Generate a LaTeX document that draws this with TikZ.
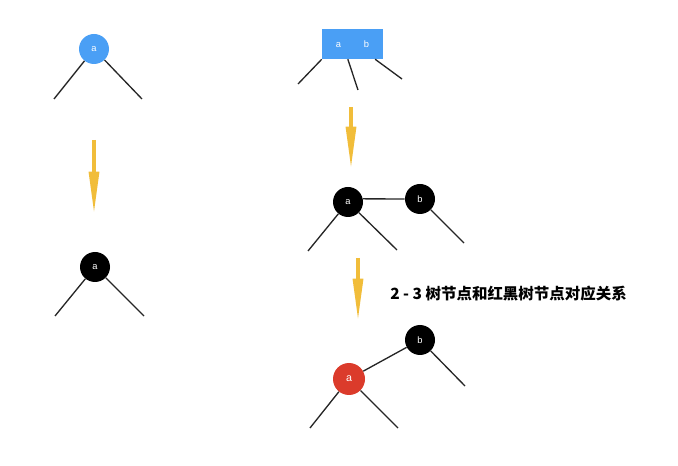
\documentclass[tikz,border=0pt]{standalone}
\usepackage{fontspec}
\newfontfamily\labfont{Liberation Sans}
\newfontfamily\cjkfont{Noto Sans CJK SC}
\usepackage{tikz}
\usetikzlibrary{arrows.meta}
\definecolor{keyblue}{HTML}{4A9FF5}
\definecolor{keyred}{HTML}{DB3B2B}
\definecolor{arrowgold}{HTML}{F1BD3A}
\tikzset{
  key/.style={circle,fill=black,minimum size=22.5pt,inner sep=0pt,text=white,font=\labfont\fontsize{7}{8}\selectfont},
  edge/.style={line width=1pt,black!85},
  down/.style={line width=2.4pt,arrowgold,-{Triangle[length=31pt,width=7.5pt]}}
}

\begin{document}
\begin{tikzpicture}[x=0.75pt,y=0.75pt,yscale=-1,xscale=1]
        \useasboundingbox (0,0) rectangle (678,466);

        % 2-node
        \node [key,fill=keyblue] (ta) at (94,49) {a};
        \coordinate (tal) at (54,99);
        \coordinate (tar) at (142,99);
        \draw [edge] (ta) -- (tal);
        \draw [edge] (ta) -- (tar);

        \node [key] (ba) at (95,267) {a};
        \coordinate (bal) at (55,316);
        \coordinate (bar) at (144,316);
        \draw [edge] (ba) -- (bal);
        \draw [edge] (ba) -- (bar);

        \coordinate (s1) at (94,140);
        \coordinate (e1) at (94,213);
        \draw [down] (s1) -- (e1);

        % 3-node
        \node [rectangle,fill=keyblue,minimum width=45.75pt,minimum height=22.5pt,inner sep=0pt,text=white,font=\labfont\fontsize{7}{8}\selectfont] (tab) at (352.5,44) {a\hspace{17pt}b};
        \coordinate (tabl) at (298,84);
        \coordinate (tabm) at (358,90);
        \coordinate (tabr) at (402,79);
        \draw [edge] (tab.south west) -- (tabl);
        \draw [edge] (tab.253) -- (tabm);
        \draw [edge] (tab.326) -- (tabr);

        \coordinate (s2) at (351,107);
        \coordinate (e2) at (351,168);
        \draw [down] (s2) -- (e2);

        \node [key] (ma) at (348,202) {a};
        \node [key] (mb) at (420,199) {b};
        \coordinate (mal) at (308,251);
        \coordinate (mar) at (397,250);
        \coordinate (mbr) at (464,243);
        \draw [edge] (ma.12) -- (mb.west);
        \draw [edge] (ma) -- (mal);
        \draw [edge] (ma) -- (mar);
        \draw [edge] (mb) -- (mbr);

        \coordinate (s3) at (358,258);
        \coordinate (e3) at (358,320);
        \draw [down] (s3) -- (e3);

        \node [key,fill=keyred,minimum size=24pt,font=\labfont\fontsize{8}{9}\selectfont] (ra) at (349,379) {a};
        \node [key] (rb) at (420,340) {b};
        \coordinate (ral) at (310,428);
        \coordinate (rar) at (398,428);
        \coordinate (rbr) at (465,386);
        \draw [edge] (ra) -- (rb);
        \draw [edge] (ra) -- (ral);
        \draw [edge] (ra) -- (rar);
        \draw [edge] (rb) -- (rbr);

        \node [anchor=west,inner sep=0pt,font=\cjkfont\bfseries\fontsize{11.6}{13}\selectfont] (cap) at (390,294) {2 - 3 树节点和红黑树节点对应关系};
\end{tikzpicture}
\end{document}
